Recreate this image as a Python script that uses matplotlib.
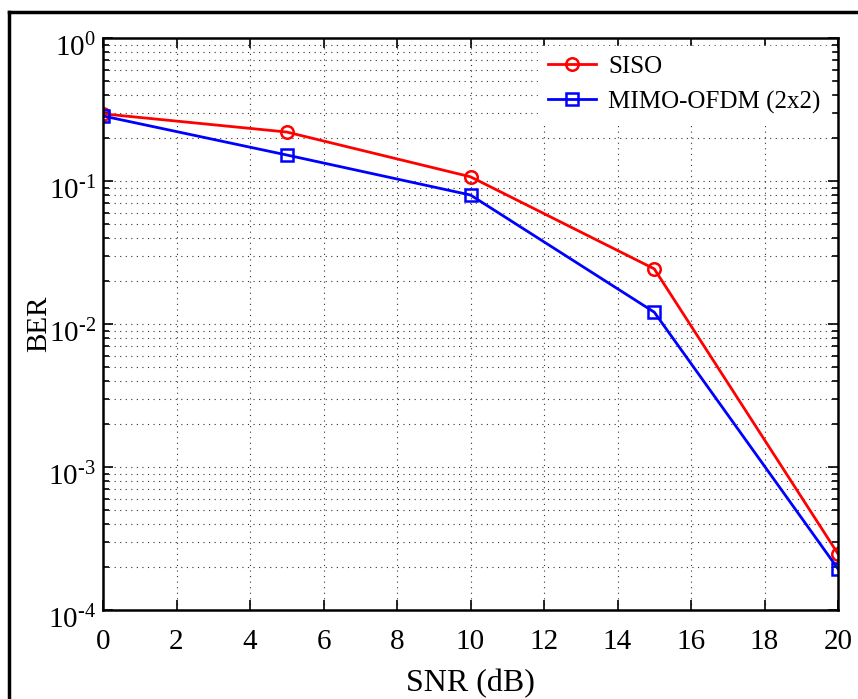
import matplotlib
matplotlib.use('Agg')
import matplotlib.pyplot as plt
import numpy as np
from matplotlib.lines import Line2D
from matplotlib.transforms import ScaledTranslation
from matplotlib.ticker import LogLocator, MultipleLocator, FuncFormatter

plt.rcParams['font.family'] = 'Liberation Serif'
plt.rcParams['mathtext.fontset'] = 'custom'
plt.rcParams['mathtext.rm'] = 'Liberation Serif'
plt.rcParams['mathtext.it'] = 'Liberation Serif:italic'

snr = [0, 5, 10, 15, 20]
ber_siso = [0.295, 0.22, 0.107, 0.0243, 2.47e-4]
ber_mimo = [0.285, 0.152, 0.0798, 0.0121, 1.94e-4]

fig = plt.figure(figsize=(8.58, 6.99), dpi=100)
ax = fig.add_axes([103/858, 1 - 610/699, 735/858, 572/699])

ax.semilogy(snr, ber_siso, 'r-o', lw=2, ms=9, mfc='none', mew=1.8, label='SISO')
ax.semilogy(snr, ber_mimo, 'b-s', lw=2, ms=9, mfc='none', mew=1.8, label='MIMO-OFDM (2x2)')

ax.set_xlim(0, 20)
ax.set_ylim(1e-4, 1)
ax.xaxis.set_major_locator(MultipleLocator(2))
ax.yaxis.set_major_locator(LogLocator(base=10, numticks=10))
ax.yaxis.set_minor_locator(LogLocator(base=10, subs=range(2, 10), numticks=10))


def exp_label(v, pos):
    e = int(round(np.log10(v)))
    if e < 0:
        return r'$\mathdefault{10^{\text{-}%d}}$' % (-e)
    return r'$\mathdefault{10^{%d}}$' % e


ax.yaxis.set_major_formatter(FuncFormatter(exp_label))

ax.grid(True, which='major', ls=(0, (1, 4)), color='#333333', lw=0.8)
ax.grid(True, which='minor', axis='y', ls=(0, (1, 4)), color='#333333', lw=0.8)
ax.tick_params(which='both', direction='in', top=True, right=True, width=1.2)
ax.tick_params(axis='x', which='major', length=7, pad=14, labelsize=21)
ax.tick_params(axis='y', which='major', length=7, pad=5, labelsize=21)
ax.tick_params(which='minor', length=4)
for s in ax.spines.values():
    s.set_linewidth(1.8)

# MATLAB puts the "10" just below the tick, exponent above
shift = ScaledTranslation(0, -5 / 72, fig.dpi_scale_trans)
for t in ax.yaxis.get_major_ticks():
    t.label1.set_transform(t.label1.get_transform() + shift)

ax.set_xlabel('SNR (dB)', fontsize=23)
ax.set_ylabel('BER', fontsize=21)
ax.xaxis.set_label_coords(0.5, -0.128)
ax.yaxis.set_label_coords(-0.087, 0.5)
ax.xaxis.label.set_va('center')
ax.yaxis.label.set_va('center')

leg = ax.legend(loc='upper right', fontsize=18, frameon=True, fancybox=False,
                edgecolor='white', framealpha=1, handlelength=1.9, handletextpad=0.5,
                borderaxespad=0.3, labelspacing=0.5)

# figure border (MATLAB style frame)
fig.add_artist(Line2D([9/858, 9/858], [0, 1 - 12/699], color='black', lw=2.5, transform=fig.transFigure))
fig.add_artist(Line2D([9/858, 1], [1 - 12/699, 1 - 12/699], color='black', lw=2.5, transform=fig.transFigure))

fig.savefig('out.png', dpi=100)
